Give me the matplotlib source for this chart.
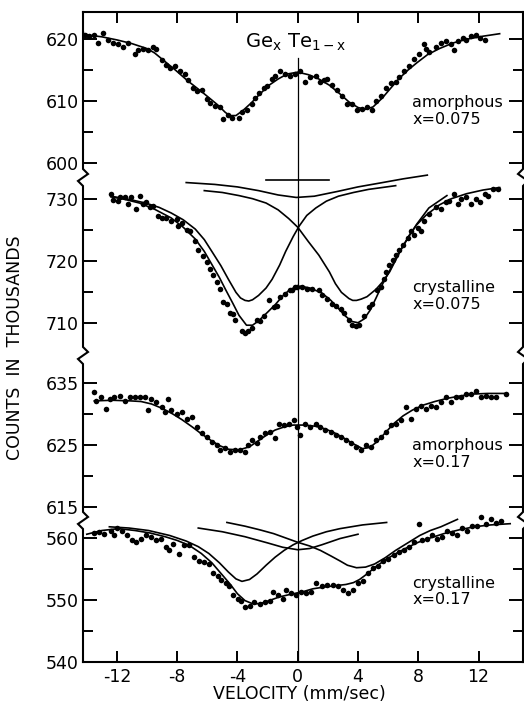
import numpy as np
import matplotlib.pyplot as plt

plt.rcParams['axes.unicode_minus'] = False
plt.rcParams['font.family'] = 'DejaVu Sans'

# ---------------- data: velocity (mm/sec), counts (thousands) ----------------
# amorphous x=0.075
am075_v = [-14.38, -14.11, -13.82, -13.49, -13.27, -12.93, -12.6, -12.27, -11.93, -11.6,
           -11.27, -10.82, -10.6, -10.27, -9.93, -9.6, -9.38, -9.04, -8.71, -8.49,
           -8.16, -7.82, -7.49, -7.27, -6.93, -6.71, -6.38, -6.04, -5.82, -5.49,
           -5.16, -4.93, -4.6, -4.38, -3.93, -3.71, -3.38, -3.04, -2.82, -2.6,
           -2.27, -2.04, -1.71, -1.49, -1.16, -0.82, -0.49, -0.16, 0.18, 0.51,
           0.84, 1.18, 1.51, 1.73, 1.96, 2.29, 2.62, 2.96, 3.29, 3.62,
           3.96, 4.29, 4.62, 4.96, 5.18, 5.51, 5.84, 6.18, 6.51, 6.73,
           7.07, 7.4, 7.73, 8.07, 8.4, 8.51, 8.73, 9.18, 9.51, 9.84,
           10.18, 10.4, 10.62, 10.96, 11.18, 11.51, 11.84, 12.07, 12.4]
am075_c = [621.2, 620.7, 620.5, 620.7, 619.4, 621.0, 619.9, 619.4, 619.2, 618.7,
           619.4, 617.7, 618.2, 618.4, 618.2, 618.7, 618.4, 616.7, 615.9, 615.4,
           615.7, 614.9, 614.4, 613.4, 612.1, 611.6, 611.9, 610.4, 609.8, 609.3,
           609.1, 607.1, 607.8, 607.3, 607.3, 608.3, 608.6, 609.6, 610.6, 611.4,
           612.1, 612.4, 613.6, 614.1, 614.9, 614.4, 614.1, 614.4, 614.9, 613.1,
           613.9, 614.1, 613.1, 613.4, 613.6, 612.6, 611.9, 610.9, 609.6, 609.6,
           608.6, 608.8, 609.1, 608.6, 610.1, 610.9, 612.1, 612.9, 613.1, 613.9,
           614.9, 615.7, 616.9, 617.7, 619.2, 618.4, 617.9, 618.7, 619.4, 619.7,
           619.2, 618.2, 619.7, 620.2, 619.9, 620.5, 620.7, 620.2, 619.9]
am075_fit_v = [-14.3, -13.0, -12.0, -11.0, -10.0, -9.5, -8.9, -8.1, -7.3, -6.3, -5.3, -4.8,
               -4.5, -4.1, -3.6, -3.1, -2.5, -1.9, -1.3, -0.7, 0.0, 0.7, 1.4, 2.1, 2.8,
               3.4, 4.0, 4.5, 5.0, 5.6, 6.2, 6.7, 7.3, 7.9, 8.6, 9.4, 10.3, 11.2, 12.3, 13.4]
am075_fit_c = [620.8, 620.4, 619.9, 619.3, 618.5, 617.8, 616.6, 615.0, 613.3, 611.4, 609.4, 608.2,
               607.7, 607.7, 608.6, 609.7, 611.2, 612.6, 613.6, 614.4, 614.7, 614.3, 613.6, 612.6, 611.2,
               609.9, 609.0, 608.7, 609.1, 610.5, 612.2, 613.6, 615.0, 616.2, 617.5, 618.5, 619.4, 620.0, 620.5, 620.9]

# crystalline x=0.075
cr075_v = [-12.38, -12.27, -11.93, -11.82, -11.49, -11.27, -11.04, -10.71, -10.49, -10.27,
           -10.04, -9.82, -9.6, -9.27, -9.04, -8.71, -8.38, -8.04, -7.93, -7.71,
           -7.38, -7.16, -6.82, -6.6, -6.27, -6.04, -5.82, -5.6, -5.38, -5.16,
           -4.93, -4.71, -4.49, -4.27, -4.16, -3.71, -3.49, -3.27, -3.04, -2.71,
           -2.49, -2.27, -1.93, -1.6, -1.38, -1.16, -0.82, -0.49, -0.16, -0.38,
           -0.04, 0.29, 0.62, 0.96, 1.4, 1.62, 1.96, 2.29, 2.51, 2.84,
           3.07, 3.4, 3.62, 3.84, 4.07, 4.4, 4.73, 4.96, 5.29, 5.51,
           5.73, 5.84, 6.07, 6.29, 6.51, 6.73, 6.96, 7.29, 7.51, 7.73,
           7.96, 8.18, 8.4, 8.73, 9.18, 9.51, 9.84, 10.07, 10.4, 10.62,
           10.84, 11.18, 11.51, 11.84, 12.07, 12.4, 12.62, 12.96, 13.29]
cr075_c = [730.8, 729.8, 729.6, 730.3, 730.2, 729.1, 730.2, 728.3, 730.5, 729.1,
           729.4, 728.6, 728.9, 727.2, 726.9, 726.9, 726.4, 726.7, 725.6, 726.1,
           725.0, 724.8, 723.1, 721.8, 720.7, 719.8, 718.7, 717.7, 716.6, 715.5,
           713.3, 713.0, 711.6, 711.4, 710.5, 708.6, 708.4, 708.6, 709.2, 710.5,
           710.3, 711.1, 713.6, 712.5, 712.7, 714.1, 714.6, 715.2, 715.7, 715.2,
           715.7, 715.7, 715.5, 715.5, 715.2, 714.4, 713.8, 713.0, 712.7, 712.2,
           711.6, 710.5, 709.7, 709.5, 709.7, 711.1, 712.5, 713.0, 715.2, 715.7,
           717.1, 718.2, 719.3, 720.1, 720.9, 721.8, 722.6, 723.7, 724.8, 724.2,
           725.3, 724.8, 726.4, 727.5, 728.6, 728.3, 729.4, 729.7, 730.8, 729.1,
           729.9, 730.2, 729.1, 729.9, 729.4, 730.8, 730.5, 731.6, 731.6]
cr075_fit_v = [-12.4, -11.5, -10.5, -9.5, -8.4, -7.6, -6.8, -6.2, -5.7, -5.2, -4.8, -4.3,
               -3.9, -3.4, -3.0, -2.6, -2.0, -1.5, -1.0, -0.5, 0.2, 0.8, 1.6, 2.2, 2.7,
               3.2, 3.6, 4.0, 4.4, 4.8, 5.2, 5.6, 6.1, 6.5, 7.0, 7.4, 7.9, 8.5, 9.4,
               10.2, 11.2, 12.3, 13.4]
cr075_fit_c = [730.3, 729.9, 729.3, 728.3, 726.9, 725.4, 723.5, 721.5, 719.4, 717.3, 715.4, 713.1,
               711.2, 709.6, 709.6, 710.3, 711.7, 712.9, 714.3, 715.4, 715.9, 715.6, 714.8, 713.6, 712.3,
               711.0, 710.2, 710.0, 710.6, 712.0, 714.0, 716.1, 718.4, 720.3, 722.4, 724.1, 725.8, 727.3, 729.0,
               730.0, 730.8, 731.4, 731.8]
cr075_left_v = [-12.4, -11.2, -10.1, -9.2, -8.4, -7.6, -6.8, -6.2, -5.7, -5.1, -4.6, -4.1, -3.8,
                -3.5, -3.25, -3.0, -2.6, -2.1, -1.7, -1.2, -0.8, -0.3, 0.1, 0.6, 1.2, 1.9, 2.7,
                3.7, 4.7, 5.6, 6.5]
cr075_left_c = [730.4, 729.9, 729.3, 728.6, 727.7, 726.6, 725.1, 723.4, 721.5, 719.2, 717.0, 714.9, 714.0,
                713.6, 713.5, 713.7, 714.4, 715.6, 717.0, 719.3, 721.5, 723.9, 725.6, 727.3, 728.5, 729.6,
                730.4, 731.0, 731.5, 731.8, 732.1]
cr075_right_v = [9.9, 8.7, 7.9, 7.4, 6.9, 6.5, 6.1, 5.6, 5.2, 4.6, 4.2, 3.9, 3.65, 3.4, 2.9, 2.5,
                 2.1, 1.4, 0.7, 0.0, -0.6, -1.3, -2.1, -3.0, -3.9, -5.0, -6.2]
cr075_right_c = [730.5, 728.5, 725.9, 724.0, 722.0, 720.1, 718.2, 716.5, 715.4, 714.2, 713.8, 713.6,
                 713.6, 713.9, 714.9, 716.3, 718.2, 720.9, 723.1, 725.4, 726.8, 728.2, 729.3, 730.0,
                 730.5, 731.0, 731.3]
cr075_broad_v = [-7.4, -5.5, -4.0, -2.6, -1.3, -0.1, 1.1, 2.7, 4.0, 5.4, 7.0, 8.6]
cr075_broad_c = [732.6, 732.3, 731.9, 731.3, 730.6, 730.2, 730.4, 731.2, 731.9, 732.5, 733.2, 733.8]
cr075_mark_v = [-2.1, 2.1]
cr075_mark_c = [733.0, 733.0]

# amorphous x=0.17
am017_v = [-13.49, -13.38, -13.04, -12.71, -12.49, -12.16, -11.82, -11.49, -11.16, -10.82,
           -10.49, -10.16, -9.93, -9.71, -9.38, -9.04, -8.82, -8.6, -8.38, -8.04,
           -7.71, -7.38, -7.04, -6.71, -6.38, -6.04, -5.71, -5.38, -5.16, -4.82,
           -4.49, -4.16, -3.82, -3.49, -3.27, -3.04, -2.71, -2.49, -2.16, -1.82,
           -1.49, -1.27, -0.93, -0.6, -0.27, -0.04, 0.18, 0.51, 0.84, 1.18,
           1.51, 1.84, 2.18, 2.51, 2.84, 3.18, 3.51, 3.84, 4.18, 4.51,
           4.84, 5.18, 5.51, 5.84, 6.18, 6.51, 6.84, 7.18, 7.51, 7.84,
           8.18, 8.51, 8.84, 9.18, 9.51, 9.84, 10.18, 10.51, 10.84, 11.18,
           11.51, 11.84, 12.18, 12.51, 12.84, 13.18, 13.84]
am017_c = [633.5, 632.1, 632.7, 630.8, 632.4, 632.7, 632.9, 632.1, 632.7, 632.7,
           632.7, 632.7, 630.6, 632.4, 631.9, 631.1, 630.3, 632.4, 630.6, 630.0,
           630.3, 629.2, 629.5, 627.9, 626.9, 626.3, 625.5, 625.0, 624.2, 624.5,
           623.9, 624.2, 624.2, 623.9, 625.0, 625.8, 625.3, 626.3, 626.9, 627.1,
           626.1, 628.4, 628.2, 628.4, 629.0, 627.9, 626.6, 628.4, 627.9, 628.4,
           627.9, 627.4, 627.1, 626.6, 626.3, 625.8, 625.3, 624.7, 624.2, 625.0,
           624.7, 625.8, 626.3, 627.1, 628.2, 628.4, 629.0, 631.1, 629.2, 630.8,
           631.3, 630.8, 631.3, 631.1, 631.9, 632.7, 631.9, 632.7, 632.7, 633.2,
           633.2, 633.7, 632.7, 632.9, 632.7, 632.7, 633.2]
am017_fit_v = [-13.5, -12.3, -11.1, -10.4, -9.7, -9.0, -8.3, -7.7, -7.0, -6.4, -5.8, -5.2,
               -4.6, -3.9, -3.2, -2.6, -2.0, -1.5, -0.9, -0.3, 0.5, 1.2, 1.8, 2.4, 3.0,
               3.6, 4.3, 4.8, 5.3, 5.9, 6.4, 7.0, 7.6, 8.3, 9.1, 9.9, 10.8, 11.6, 12.6, 13.7]
am017_fit_c = [632.1, 632.2, 632.1, 632.0, 631.6, 630.9, 630.0, 629.1, 627.9, 626.8, 625.8, 624.9,
               624.3, 624.2, 624.7, 625.7, 626.7, 627.4, 627.9, 628.2, 628.2, 628.0, 627.6, 627.0, 626.2,
               625.3, 624.4, 624.6, 625.6, 627.2, 628.5, 629.7, 630.6, 631.4, 632.0, 632.5, 632.9, 633.2,
               633.3, 633.3]

# crystalline x=0.17
cr017_v = [-13.53, -13.2, -12.87, -12.42, -12.2, -11.98, -11.64, -11.31, -10.98, -10.76,
           -10.42, -10.09, -9.76, -9.42, -9.09, -8.76, -8.53, -8.31, -7.87, -7.53,
           -7.2, -6.87, -6.53, -6.2, -5.87, -5.64, -5.31, -5.09, -4.76, -4.53,
           -4.31, -3.98, -3.76, -3.53, -3.2, -2.87, -2.53, -2.2, -1.87, -1.64,
           -1.31, -0.98, -0.76, -0.42, -0.09, 0.24, 0.58, 0.91, 1.24, 1.58,
           1.91, 2.36, 2.69, 3.02, 3.36, 3.69, 4.02, 4.36, 4.69, 5.02,
           5.36, 5.69, 6.02, 6.36, 6.69, 7.02, 7.36, 7.69, 8.02, 8.24,
           8.58, 8.91, 9.24, 9.58, 9.91, 10.24, 10.58, 10.91, 11.24, 11.58,
           11.91, 12.13, 12.47, 12.8, 13.13, 13.47]
cr017_c = [560.8, 560.9, 560.6, 561.1, 560.5, 561.6, 561.2, 560.5, 559.7, 559.4,
           559.9, 560.5, 560.2, 559.7, 559.9, 558.6, 558.0, 559.1, 557.4, 558.8,
           558.8, 556.9, 556.3, 556.1, 555.8, 554.4, 553.8, 553.3, 552.7, 552.2,
           550.8, 550.2, 549.9, 548.8, 549.1, 549.7, 549.4, 549.7, 549.9, 551.3,
           550.8, 550.2, 551.6, 551.1, 550.8, 551.3, 551.1, 551.3, 552.7, 552.2,
           552.4, 552.4, 552.2, 551.6, 551.1, 551.6, 552.7, 553.0, 554.4, 555.2,
           555.5, 556.3, 556.6, 557.2, 557.7, 558.0, 558.6, 559.4, 562.2, 559.7,
           559.9, 560.5, 559.9, 560.2, 561.1, 560.8, 560.5, 561.6, 561.1, 561.9,
           561.9, 563.3, 562.2, 563.0, 562.4, 562.7]
cr017_fit_v = [-14.0, -13.0, -11.9, -10.8, -9.8, -8.8, -8.0, -7.2, -6.4, -5.7, -5.1, -4.5,
               -4.0, -3.5, -3.0, -2.5, -1.9, -1.2, -0.5, 0.3, 1.0, 1.8, 2.5, 3.2, 3.7,
               4.1, 4.6, 5.2, 5.9, 6.6, 7.3, 8.0, 8.8, 9.7, 10.7, 11.7, 12.8, 14.1]
cr017_fit_c = [560.6, 561.2, 561.5, 561.2, 560.8, 560.2, 559.6, 558.8, 557.5, 556.0, 554.3, 552.6,
               551.0, 549.9, 549.4, 549.4, 549.9, 550.5, 550.9, 551.3, 551.8, 552.1, 552.3, 552.5, 552.8,
               553.3, 554.2, 555.4, 556.6, 557.6, 558.5, 559.3, 560.0, 560.7, 561.3, 561.8, 562.1, 562.3]
cr017_left_v = [-12.5, -11.2, -9.9, -8.5, -7.4, -6.6, -5.9, -5.2, -4.6, -4.1, -3.7, -3.2, -2.7,
                -2.1, -1.5, -0.9, -0.3, 0.3, 1.0, 1.9, 2.8, 4.3, 5.9]
cr017_left_c = [561.8, 561.6, 561.2, 560.4, 559.5, 558.6, 557.5, 556.0, 554.5, 553.4, 553.0, 553.3, 554.2,
                555.6, 556.9, 558.0, 558.9, 559.6, 560.3, 561.0, 561.5, 562.1, 562.5]
cr017_right_v = [10.6, 9.5, 8.8, 8.1, 7.3, 6.5, 5.8, 5.1, 4.5, 3.9, 3.3, 2.8, 2.2, 1.5, 0.8, 0.0,
                 -0.8, -1.6, -2.5, -3.5, -4.7]
cr017_right_c = [563.0, 561.8, 561.2, 560.4, 559.2, 558.0, 556.8, 555.8, 555.3, 555.2, 555.6, 556.3,
                 557.1, 558.0, 558.7, 559.3, 560.0, 560.7, 561.3, 561.9, 562.5]
cr017_broad_v = [-6.6, -5.0, -3.5, -2.0, -1.0, 0.0, 0.8, 1.6, 2.8, 4.0]
cr017_broad_c = [561.6, 561.0, 560.2, 559.2, 558.5, 558.1, 558.3, 558.9, 559.9, 560.6]

# ---------------- layout ----------------
offsets = [20.4, -115.3, -50.0, 0.0]          # vertical shift of each spectrum on the shared axis
major_ticks = [[620, 610, 600], [730, 720, 710], [635, 625, 615], [560, 550, 540]]
minor_ticks = [[615, 605], [725, 715], [630, 620], [555, 545]]
labels = ['amorphous\nx=0.075', 'crystalline\nx=0.075', 'amorphous\nx=0.17', 'crystalline\nx=0.17']
label_y = [0.872, 0.587, 0.344, 0.133]
breaks = [618.2, 589.5, 562.9]
ylo, yhi = 540.0, 644.8

fig = plt.figure(figsize=(5.24, 7.04), dpi=100)
ax = fig.add_axes([83 / 524, 42 / 704, 440 / 524, 650 / 704])
ax.set_xlim(-14.25, 14.95)
ax.set_ylim(ylo, yhi)

pts = [(am075_v, am075_c), (cr075_v, cr075_c), (am017_v, am017_c), (cr017_v, cr017_c)]
fits = [(am075_fit_v, am075_fit_c), (cr075_fit_v, cr075_fit_c),
        (am017_fit_v, am017_fit_c), (cr017_fit_v, cr017_fit_c)]
comps = [[],
         [(cr075_left_v, cr075_left_c), (cr075_right_v, cr075_right_c),
          (cr075_broad_v, cr075_broad_c), (cr075_mark_v, cr075_mark_c)],
         [],
         [(cr017_left_v, cr017_left_c), (cr017_right_v, cr017_right_c),
          (cr017_broad_v, cr017_broad_c)]]

for i in range(4):
    off = offsets[i]
    v, c = pts[i]
    ax.plot(v, np.array(c) + off, 'o', color='black', ms=4, mec='none')
    fv, fc = fits[i]
    ax.plot(fv, np.array(fc) + off, color='black', lw=1.2)
    for cv, cc in comps[i]:
        ax.plot(cv, np.array(cc) + off, color='black', lw=1.2)
    ax.text(0.748, label_y[i], labels[i], transform=ax.transAxes, fontsize=11.5,
            ha='left', va='top', linespacing=1.15)

# zero-velocity line
ax.axvline(0, ymin=0, ymax=(637.4 - ylo) / (yhi - ylo), color='black', lw=0.9)

# y ticks: labelled majors and unlabelled minors for each segment
maj_pos, maj_lab, min_pos = [], [], []
for i in range(4):
    for t in major_ticks[i]:
        maj_pos.append(t + offsets[i])
        maj_lab.append(str(t))
    for t in minor_ticks[i]:
        min_pos.append(t + offsets[i])
ax.set_yticks(maj_pos, maj_lab)
ax.set_yticks(min_pos, minor=True)
ax.set_xticks([-12, -8, -4, 0, 4, 8, 12], ['-12', '-8', '-4', '0', '4', '8', '12'])

ax.tick_params(axis='y', which='major', direction='in', length=10, width=1.4,
               left=True, right=True, labelsize=12.5, pad=3)
ax.tick_params(axis='y', which='minor', direction='in', length=7, width=1.4, left=True, right=True)
ax.tick_params(axis='x', which='major', direction='in', length=8, width=1.4,
               top=True, bottom=True, labelsize=12.5, pad=4)

# spines with break marks
for s in ['left', 'right']:
    ax.spines[s].set_visible(False)
for s in ['top', 'bottom']:
    ax.spines[s].set_linewidth(1.5)

dx, dy = 1 / 440, 1 / 650
for xs, sgn in [(0.0, 1), (1.0, -1)]:
    px, py = [xs], [1.0]
    for b in breaks:
        yb = (b - ylo) / (yhi - ylo)
        px += [xs, xs + sgn * 5 * dx, xs - sgn * 5 * dx, xs]
        py += [yb + 8 * dy, yb + 3 * dy, yb - 4 * dy, yb - 9 * dy]
    px.append(xs)
    py.append(0.0)
    ax.plot(px, py, color='black', lw=1.5, transform=ax.transAxes, clip_on=False,
            solid_joinstyle='miter')

ax.text(0.484, 0.954, r'Ge$_{\mathregular{x}}$ Te$_{\mathregular{1-x}}$', transform=ax.transAxes,
        ha='center', va='center', fontsize=14)
fig.text(15 / 524, 1 - 348 / 704, 'COUNTS  IN  THOUSANDS', rotation=90, ha='center', va='center',
         fontsize=12.5)
fig.text(299 / 524, 1 - 694 / 704, 'VELOCITY (mm/sec)', ha='center', va='center', fontsize=12.5)

fig.savefig('out.png', dpi=100)
